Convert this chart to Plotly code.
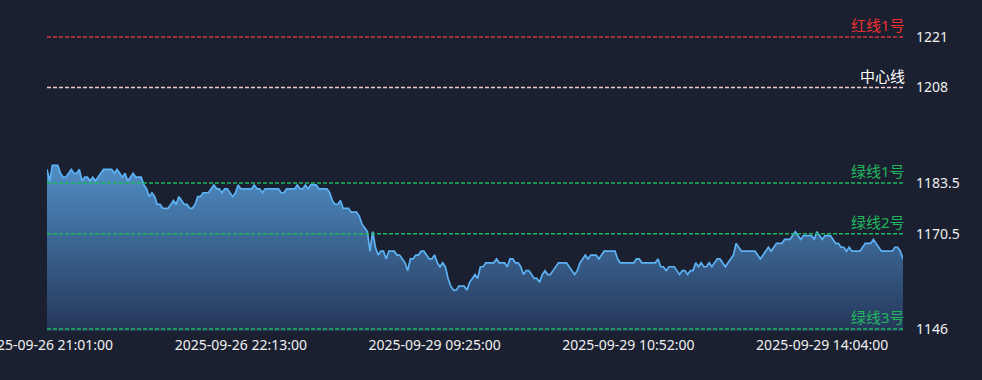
import pandas as pd
import plotly.graph_objects as go

# trading sessions (date, first bar, last bar)
sessions = [
    ("2025-09-26", "21:01", "23:00"),
    ("2025-09-29", "09:01", "10:15"),
    ("2025-09-29", "10:31", "11:30"),
    ("2025-09-29", "13:31", "14:34"),
]
times = []
for d, s, e in sessions:
    rng = pd.date_range(f"{d} {s}", f"{d} {e}", freq="1min")
    times += [t.strftime("%Y-%m-%d %H:%M:%S") for t in rng]

prices = [
    1187, 1184, 1188, 1188, 1188, 1186, 1185, 1185, 1186, 1187,
    1186, 1186, 1187, 1184, 1185, 1185, 1184, 1185, 1184, 1185,
    1186, 1187, 1187, 1187, 1187, 1186, 1187, 1186, 1185, 1186,
    1184, 1185, 1186, 1185, 1185, 1185, 1183, 1182, 1180, 1181,
    1180, 1178, 1178, 1177, 1177, 1177, 1178, 1179, 1178, 1180,
    1179, 1178, 1178, 1177, 1177, 1178, 1180, 1180, 1181, 1181,
    1181, 1182, 1183, 1182, 1182, 1181, 1182, 1182, 1181, 1180,
    1181, 1183, 1182, 1182, 1182, 1182, 1182, 1183, 1182, 1182,
    1181, 1182, 1182, 1182, 1182, 1182, 1182, 1181, 1181, 1182,
    1182, 1182, 1182, 1183, 1182, 1182, 1183, 1182, 1183, 1183,
    1183, 1182, 1182, 1182, 1182, 1181, 1179, 1178, 1178, 1179,
    1177, 1177, 1177, 1176, 1176, 1176, 1175, 1173, 1172, 1171,
    1166, 1171, 1167, 1165, 1166, 1166, 1164, 1166, 1166, 1166,
    1165, 1165, 1164, 1163, 1161, 1164, 1164, 1165, 1165, 1166,
    1166, 1165, 1164, 1164, 1165, 1163, 1162, 1163, 1162, 1159,
    1157, 1156, 1156, 1157, 1157, 1157, 1156, 1158, 1159, 1160,
    1159, 1162, 1162, 1163, 1163, 1163, 1163, 1164, 1163, 1163,
    1163, 1162, 1164, 1164, 1163, 1163, 1162, 1160, 1161, 1161,
    1160, 1159, 1159, 1158, 1160, 1161, 1160, 1160, 1161, 1162,
    1163, 1163, 1163, 1163, 1162, 1161, 1160, 1161, 1163, 1164,
    1165, 1164, 1165, 1165, 1165, 1164, 1165, 1166, 1166, 1166,
    1166, 1166, 1164, 1163, 1163, 1163, 1163, 1163, 1163, 1164,
    1164, 1163, 1163, 1163, 1163, 1163, 1163, 1164, 1162, 1162,
    1161, 1162, 1162, 1162, 1161, 1160, 1161, 1161, 1160, 1161,
    1161, 1163, 1162, 1163, 1162, 1162, 1163, 1162, 1163, 1164,
    1164, 1163, 1162, 1163, 1164, 1165, 1168, 1167, 1166, 1166,
    1166, 1166, 1166, 1166, 1165, 1164, 1165, 1166, 1167, 1166,
    1167, 1168, 1168, 1168, 1169, 1169, 1169, 1170, 1171, 1170,
    1169, 1170, 1170, 1170, 1170, 1169, 1171, 1170, 1169, 1170,
    1170, 1170, 1169, 1168, 1168, 1167, 1167, 1166, 1167, 1166,
    1166, 1166, 1166, 1167, 1168, 1168, 1168, 1169, 1168, 1167,
    1166, 1166, 1166, 1166, 1166, 1167, 1167, 1166, 1164,
]

x_tick_labels = [
    "2025-09-26 21:01:00",
    "2025-09-26 22:13:00",
    "2025-09-29 09:25:00",
    "2025-09-29 10:52:00",
    "2025-09-29 14:04:00",
]

line_names = ["红线1号", "中心线", "绿线1号", "绿线2号", "绿线3号"]
line_values = [1221, 1208, 1183.5, 1170.5, 1146]
line_colors = ["#d0343e", "#f4c9d2", "#1db85c", "#1db85c", "#1db85c"]
label_colors = ["#ec3030", "#ffffff", "#22b55e", "#22b55e", "#22b55e"]
y_tick_labels = ["1221", "1208", "1183.5", "1170.5", "1146"]

BG = "#1b2030"
FONT = "Noto Sans, Noto Sans CJK SC, sans-serif"

fig = go.Figure()
fig.add_trace(go.Scatter(
    x=times, y=prices, mode="lines",
    line=dict(color="#5cb2f4", width=1.7),
    fill="tozeroy",
    fillgradient=dict(type="vertical",
                      colorscale=[[0, "#25385a"], [1, "#5190c8"]],
                      start=1146, stop=1189),
    hoverinfo="skip",
    showlegend=False,
))

for name, val, lc, tc in zip(line_names, line_values, line_colors, label_colors):
    fig.add_shape(type="line", xref="paper", x0=0, x1=1, yref="y", y0=val, y1=val,
                  line=dict(color=lc, width=1.5, dash="4px,2px"), layer="above")
    fig.add_annotation(xref="paper", x=1, yref="y", y=val, text=name,
                       showarrow=False, xanchor="right", yanchor="bottom",
                       xshift=4, yshift=0,
                       font=dict(family=FONT, size=15, color=tc))

fig.update_layout(
    width=982, height=380,
    margin=dict(l=47, r=79, t=35, b=49, autoexpand=False),
    paper_bgcolor=BG, plot_bgcolor=BG,
    font=dict(family=FONT, size=14, color="#f0f0f0"),
    xaxis=dict(type="category", range=[0, len(times) - 1], automargin=False,
               tickmode="array", tickvals=x_tick_labels, ticktext=x_tick_labels,
               showgrid=False, zeroline=False, showline=False, ticks="",
               tickangle=0, ticklabelstandoff=4,
               tickfont=dict(family=FONT, size=14, color="#f0f0f0")),
    yaxis=dict(side="right", range=[1145.5, 1221.5], automargin=False,
               tickmode="array", tickvals=line_values, ticktext=y_tick_labels,
               showgrid=False, zeroline=False, showline=False, ticks="",
               ticklabelstandoff=12,
               tickfont=dict(family=FONT, size=14, color="#f0f0f0")),
)

fig.write_html("out.html")
